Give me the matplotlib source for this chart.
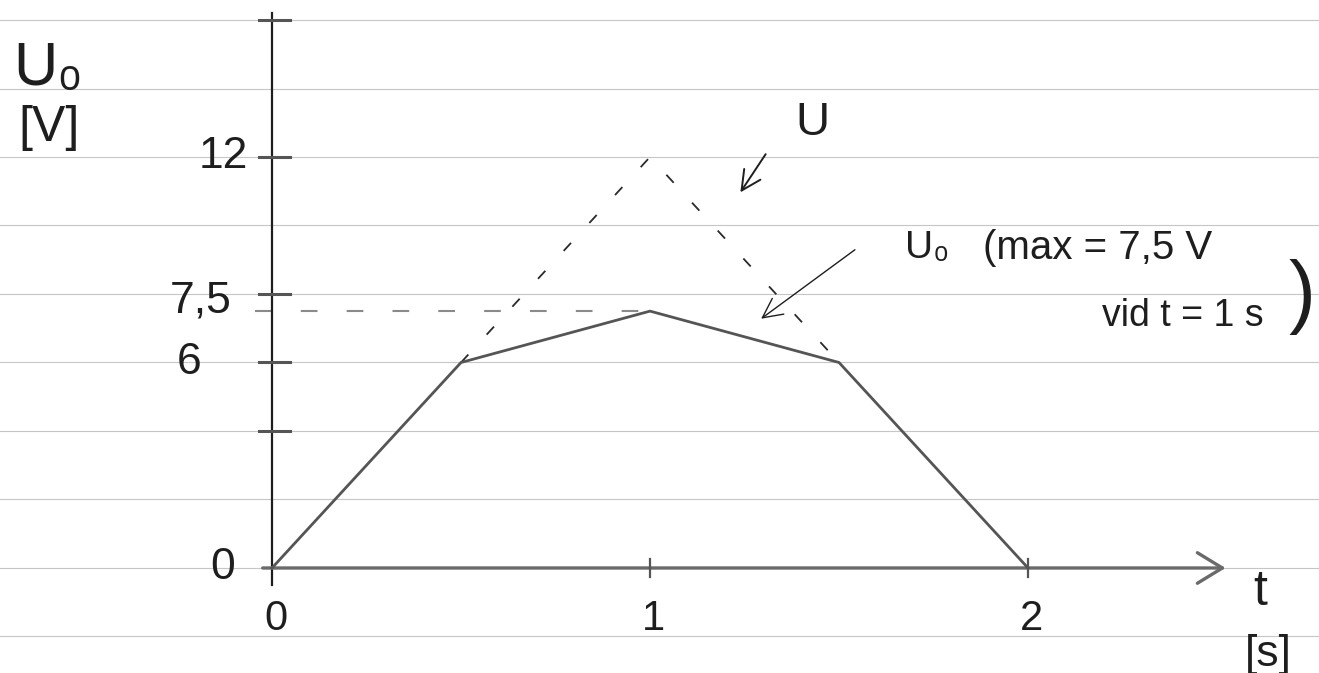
import matplotlib
matplotlib.use('Agg')
import matplotlib.pyplot as plt

plt.rcParams['font.family'] = ['Liberation Sans Narrow', 'Liberation Sans', 'DejaVu Sans']

# U0 (begränsad) och U (ideal) över tiden
t_u0 = [0, 0.5, 1, 1.5, 2]
u0 = [0, 6, 7.5, 6, 0]

t_u = [0.5, 1, 1.5]
u = [6, 12, 6]

u_max = 7.5
t_max = 1

y_marks = [4, 6, 8, 12, 16]
y_labels = {0: '0', 6: '6', 7.5: '7,5', 12: '12'}
x_marks = [1, 2]
x_labels = {0: '0', 1: '1', 2: '2'}

ink = '#1e1e1e'

fig = plt.figure(figsize=(13.19, 6.73), dpi=100)
ax = fig.add_axes([0, 0, 1, 1])
ax.set_xlim(-0.7196, 2.7698)
ax.set_ylim(-3.066, 16.584)
ax.axis('off')

# linjerat papper
for r in range(-2, 17, 2):
    ax.axhline(r, color='#c6c6c6', lw=0.8, zorder=0)

# axlar
ax.plot([0, 0], [-0.5, 16.2], color=ink, lw=1.6, zorder=3)
ax.annotate('', xy=(2.53, 0), xytext=(-0.032, 0),
            arrowprops=dict(arrowstyle='->,head_length=0.9,head_width=0.55',
                            color='#6a6a6a', lw=2.4, mutation_scale=20),
            zorder=3)
for m in y_marks:
    ax.plot([-0.035, 0.047], [m, m], color='#555555', lw=2.2, zorder=3)
for m in x_marks:
    ax.plot([m, m], [0.25, -0.25], color='#555555', lw=1.6, zorder=3)

# kurvor
ax.plot(t_u, u, color='#2a2a2a', lw=1.3, dashes=(6, 15), zorder=4)
ax.plot([-0.045, t_max], [u_max, u_max], color='#8a8a8a', lw=1.5,
        dashes=(8, 14), zorder=2)
ax.plot(t_u0, u0, color='#555555', lw=2.0, zorder=5)

# skalor
label_x = {0: -0.13, 6: -0.22, 7.5: -0.19, 12: -0.13}
for v, s in y_labels.items():
    ax.text(label_x[v], v + (0.3 if v == 7.5 else 0), s,
            fontsize=32, color=ink, ha='center', va='center')
for v, s in x_labels.items():
    ax.text(v + 0.01, -1.5, s, fontsize=30, color=ink, ha='center', va='center')

ax.text(-0.685, 14.1, 'U₀', fontsize=44, color=ink, ha='left', va='baseline')
ax.text(-0.59, 12.85, '[V]', fontsize=36, color=ink, ha='center', va='center')
ax.text(2.614, -0.7, 't', fontsize=36, color=ink, ha='center', va='center')
ax.text(2.635, -2.54, '[s]', fontsize=32, color=ink, ha='center', va='center')

# etiketter med pilar
ax.text(1.43, 13.0, 'U', fontsize=34, color=ink, ha='center', va='center')
ax.annotate('', xy=(1.235, 10.9), xytext=(1.31, 12.15),
            arrowprops=dict(arrowstyle='->,head_length=0.7,head_width=0.35',
                            color=ink, lw=1.4, mutation_scale=20))
ax.text(1.675, 9.34, 'U₀', fontsize=28, color=ink, ha='left', va='center')
ax.annotate('', xy=(1.288, 7.23), xytext=(1.548, 9.34),
            arrowprops=dict(arrowstyle='->,head_length=0.7,head_width=0.35',
                            color=ink, lw=1.0, mutation_scale=20))
ax.text(1.88, 9.34, '(max = 7,5 V', fontsize=29, color=ink,
        ha='left', va='center')
ax.text(2.41, 7.35, 'vid t = 1 s', fontsize=27, color=ink,
        ha='center', va='center')
ax.text(2.725, 7.9, ')', fontsize=58, color=ink, ha='center', va='center')

fig.savefig('out.png', dpi=100, facecolor='white')
